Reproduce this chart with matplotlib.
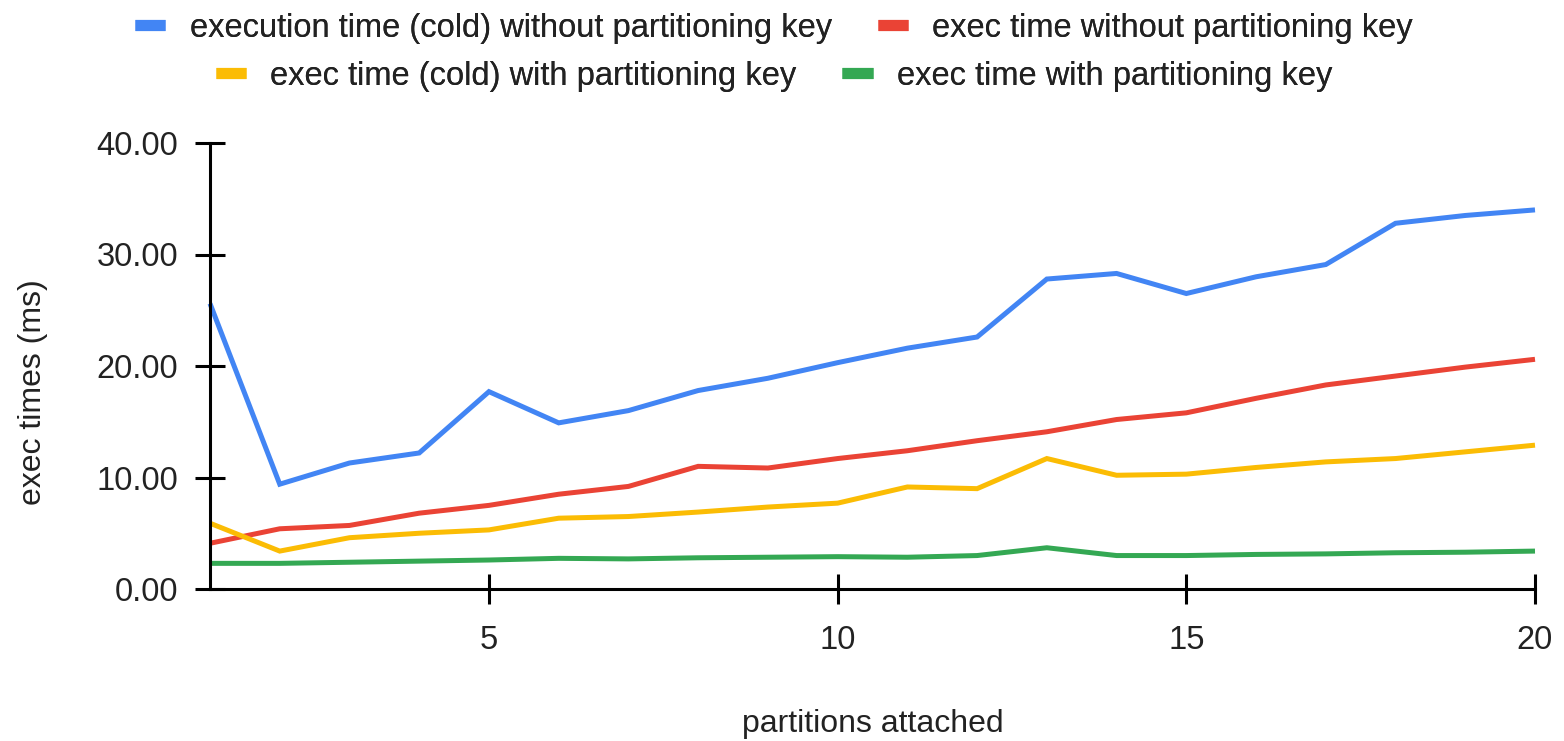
import matplotlib
matplotlib.use("Agg")
import matplotlib.pyplot as plt
from matplotlib.lines import Line2D
from matplotlib.ticker import FormatStrFormatter

plt.rcParams['font.family'] = ['Liberation Sans', 'DejaVu Sans']

partitions = list(range(1, 21))

cold_no_key = [25.6, 9.4, 11.3, 12.2, 17.7, 14.9, 16.0, 17.8, 18.9, 20.3,
               21.6, 22.6, 27.8, 28.3, 26.5, 28.0, 29.1, 32.8, 33.5, 34.0]
warm_no_key = [4.1, 5.4, 5.7, 6.8, 7.5, 8.5, 9.2, 11.0, 10.85, 11.7,
               12.4, 13.3, 14.1, 15.2, 15.8, 17.1, 18.3, 19.1, 19.9, 20.6]
cold_key = [5.9, 3.4, 4.6, 5.0, 5.3, 6.35, 6.5, 6.9, 7.35, 7.7,
            9.15, 9.0, 11.7, 10.2, 10.3, 10.9, 11.4, 11.7, 12.3, 12.9]
warm_key = [2.3, 2.3, 2.4, 2.5, 2.6, 2.75, 2.7, 2.8, 2.85, 2.9,
            2.85, 3.0, 3.7, 3.0, 3.0, 3.1, 3.15, 3.25, 3.3, 3.4]

series_labels = [
    "execution time (cold) without partitioning key",
    "exec time without partitioning key",
    "exec time (cold) with partitioning key",
    "exec time with partitioning key",
]
series_colors = ["#4285F4", "#EA4335", "#FBBC04", "#34A853"]

x_ticks = [5, 10, 15, 20]
y_ticks = [0, 10, 20, 30, 40]

W, H = 1564, 741
fig = plt.figure(figsize=(W / 100, H / 100), dpi=100)
ax = fig.add_axes([210 / W, 1 - 589 / H, (1535 - 210) / W, (589 - 143) / H])

for values, color in zip([cold_no_key, warm_no_key, cold_key, warm_key], series_colors):
    ax.plot(partitions, values, color=color, lw=3.6, solid_joinstyle='miter',
            solid_capstyle='butt', clip_on=False, zorder=3)

ax.set_xlim(1, 20)
ax.set_ylim(0, 40)
ax.set_xticks(x_ticks)
ax.set_yticks(y_ticks)
ax.yaxis.set_major_formatter(FormatStrFormatter('%.2f'))

for side in ['top', 'right']:
    ax.spines[side].set_visible(False)
for side in ['left', 'bottom']:
    ax.spines[side].set_linewidth(2.2)
    ax.spines[side].set_color('black')
    ax.spines[side].set_zorder(4)

ax.tick_params(axis='both', direction='inout', length=22, width=2.2,
               color='black', labelsize=23.5, labelcolor='#222222')
ax.tick_params(axis='y', pad=12)
ax.tick_params(axis='x', pad=15)

fig.text(33 / W, 1 - 392 / H, "exec times (ms)", rotation=90, ha='center',
         va='center', fontsize=23, color='#222222')
fig.text(873 / W, 1 - 724 / H, "partitions attached", ha='center',
         va='center', fontsize=23, color='#222222')

handles = [Line2D([0], [0], color=c, lw=8, solid_capstyle='butt') for c in series_colors]

for row, y in [(0, 28), (1, 76)]:
    leg = fig.legend(handles[2 * row:2 * row + 2], series_labels[2 * row:2 * row + 2],
                     loc='center', bbox_to_anchor=(774 / W, 1 - y / H), ncol=2,
                     frameon=False, fontsize=23.5, handlelength=0.93,
                     handletextpad=0.75, columnspacing=1.4, borderaxespad=0,
                     labelcolor='#222222')
    fig.add_artist(leg)

fig.savefig("out.png", dpi=100, facecolor='white')
